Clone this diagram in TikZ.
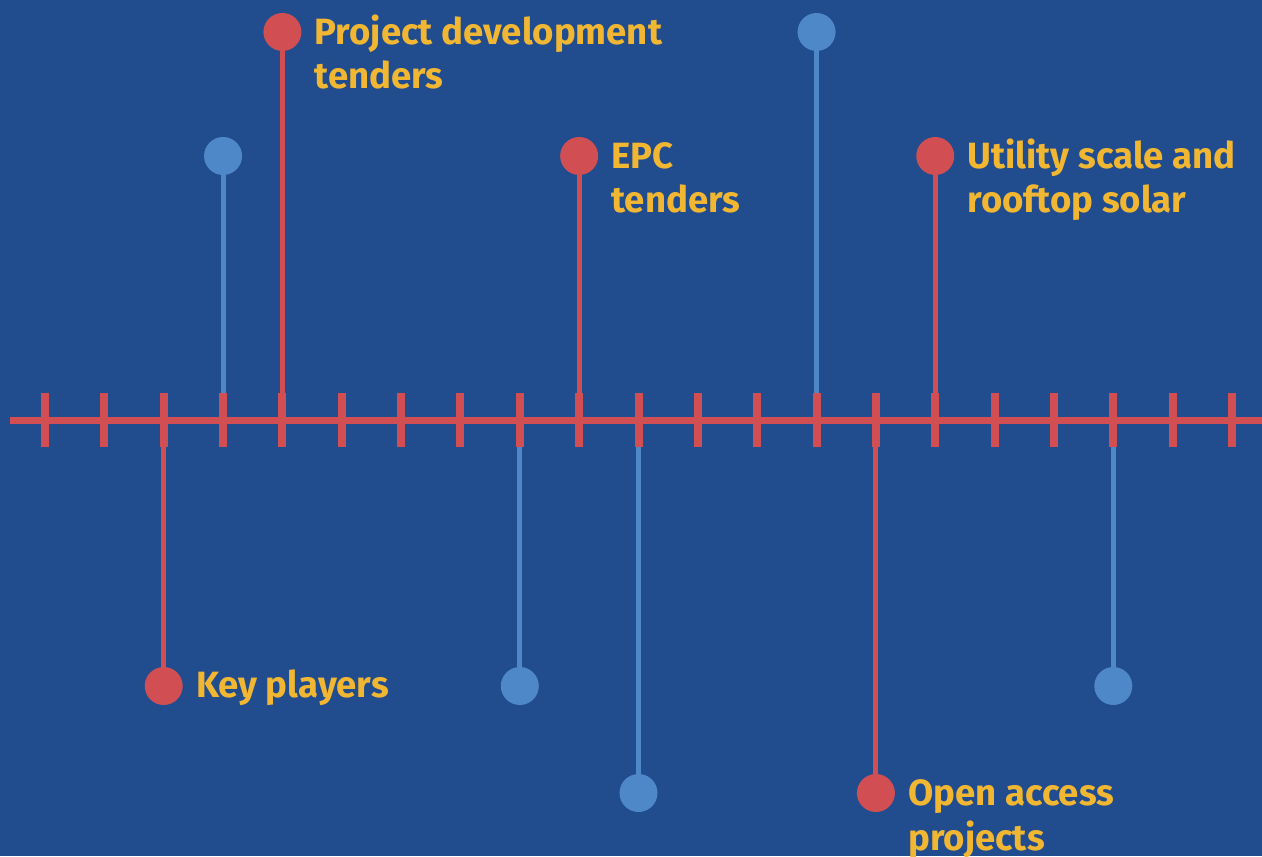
\documentclass[tikz,border=0pt]{standalone}
\usepackage{fontspec}
\setmainfont{Fira Sans}

\definecolor{bgblue}{HTML}{214C8E}
\definecolor{pinred}{HTML}{D14F52}
\definecolor{pinblue}{HTML}{4F88C9}
\definecolor{txtyellow}{HTML}{F1B733}

\tikzset{
	axisline/.style={draw=pinred, line width=0.14cm},
	tickmark/.style={draw=pinred, line width=0.16cm},
	redstem/.style={draw=pinred, line width=0.1cm},
	bluestem/.style={draw=pinblue, line width=0.1cm},
	redpin/.style={circle, fill=pinred, inner sep=0pt, minimum size=0.76cm},
	bluepin/.style={circle, fill=pinblue, inner sep=0pt, minimum size=0.76cm},
	lbl/.style={text=txtyellow, font=\bfseries\fontsize{20.8}{25.6}\selectfont, align=left, inner sep=0pt, anchor=base west, xshift=0.64cm, yshift=-0.24cm},
	% base of a two line label is its second line
	lbltwo/.style={lbl, yshift=-0.9cm}
}

\begin{document}
\begin{tikzpicture}
	
	\fill[bgblue] (0,0) rectangle (25.24,17.12);
	\useasboundingbox (0,0) rectangle (25.24,17.12);
	
	\foreach \i in {0,...,20}{
		\coordinate (t\i) at (0.9+1.187*\i,8.71);
	}
	\coordinate (top) at (0,16.48);
	\coordinate (high) at (0,14.0);
	\coordinate (low) at (0,3.4);
	\coordinate (bottom) at (0,1.26);
	
	% pins above the axis
	\node[bluepin] (pinA) at (t3 |- high) {};
	\node[redpin] (pinPD) at (t4 |- top) {};
	\node[redpin] (pinEPC) at (t9 |- high) {};
	\node[bluepin] (pinB) at (t13 |- top) {};
	\node[redpin] (pinUS) at (t15 |- high) {};
	
	% pins below the axis
	\node[redpin] (pinKP) at (t2 |- low) {};
	\node[bluepin] (pinC) at (t8 |- low) {};
	\node[bluepin] (pinD) at (t10 |- bottom) {};
	\node[redpin] (pinOA) at (t14 |- bottom) {};
	\node[bluepin] (pinE) at (t18 |- low) {};
	
	\draw[bluestem] (t3) -- (pinA);
	\draw[redstem] (t4) -- (pinPD);
	\draw[redstem] (t9) -- (pinEPC);
	\draw[bluestem] (t13) -- (pinB);
	\draw[redstem] (t15) -- (pinUS);
	\draw[redstem] (t2) -- (pinKP);
	\draw[bluestem] (t8) -- (pinC);
	\draw[bluestem] (t10) -- (pinD);
	\draw[redstem] (t14) -- (pinOA);
	\draw[bluestem] (t18) -- (pinE);
	
	% the axis with its ticks
	\coordinate (axisstart) at (0.2,8.71);
	\coordinate (axisend) at (25.24,8.71);
	\draw[axisline] (axisstart) -- (axisend);
	\foreach \i in {0,...,20}{
		\draw[tickmark] ([yshift=0.54cm]t\i) -- ([yshift=-0.54cm]t\i);
	}
	
	\node[lbltwo] (lblPD) at (pinPD) {Project development\\tenders};
	\node[lbltwo] (lblEPC) at (pinEPC) {EPC\\tenders};
	\node[lbltwo] (lblUS) at (pinUS) {Utility scale and\\rooftop solar};
	\node[lbl] (lblKP) at (pinKP) {Key players};
	\node[lbltwo] (lblOA) at (pinOA) {Open access\\projects};
	
\end{tikzpicture}
\end{document}
